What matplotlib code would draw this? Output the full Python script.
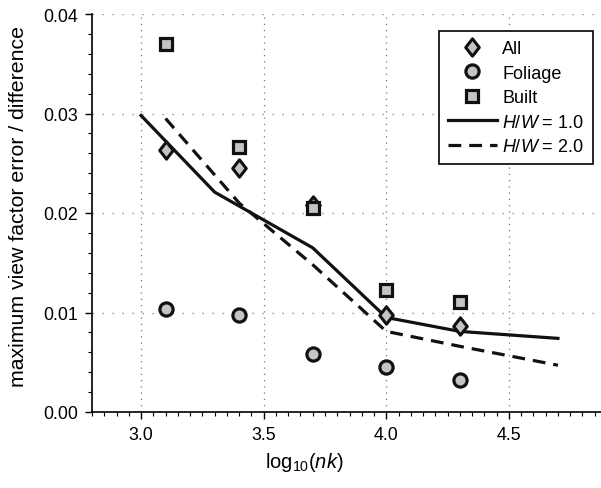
import matplotlib
matplotlib.use('Agg')
import matplotlib.pyplot as plt
from matplotlib.ticker import MultipleLocator
from matplotlib.path import Path

plt.rcParams['font.family'] = ['Liberation Sans', 'DejaVu Sans']
plt.rcParams['mathtext.fontset'] = 'custom'
plt.rcParams['mathtext.rm'] = 'Liberation Sans'
plt.rcParams['mathtext.it'] = 'Liberation Sans:italic'

# markers
pts_x = [3.1, 3.4, 3.7, 4.0, 4.3]
all_y = [0.0263, 0.0245, 0.0208, 0.0097, 0.0086]
foliage_y = [0.0104, 0.0097, 0.0058, 0.0045, 0.0032]
built_y = [0.0370, 0.0266, 0.0205, 0.0123, 0.0111]

# lines
hw1_x = [3.0, 3.3, 3.7, 4.0, 4.3, 4.7]
hw1_y = [0.0298, 0.0221, 0.0165, 0.0095, 0.0081, 0.0074]
hw2_x = [3.1, 3.4, 3.7, 4.0, 4.3, 4.7]
hw2_y = [0.0295, 0.0210, 0.0148, 0.0081, 0.0066, 0.0047]

# slightly tall diamond
diamond = Path([(0, 1), (0.78, 0), (0, -1), (-0.78, 0), (0, 1)],
               [Path.MOVETO, Path.LINETO, Path.LINETO, Path.LINETO, Path.CLOSEPOLY])

fig = plt.figure(figsize=(6.01, 4.89), dpi=100)
ax = fig.add_axes([92/601, 76/489, (607-92)/601, (413-15)/489])

gray = '#c4c4c4'
ax.plot(pts_x, all_y, marker=diamond, ms=12.5, mfc=gray, mec='#111111', mew=2.2, ls='none', label='All', zorder=4)
ax.plot(pts_x, foliage_y, 'o', ms=9.5, mfc=gray, mec='#111111', mew=2.3, ls='none', label='Foliage', zorder=4)
ax.plot(pts_x, built_y, 's', ms=8.5, mfc=gray, mec='#111111', mew=2.3, ls='none', label='Built', zorder=4)
ax.plot(hw1_x, hw1_y, '-', color='#111111', lw=2.3, label='$H/W$ = 1.0', zorder=3)
ax.plot(hw2_x, hw2_y, '--', color='#111111', lw=2.3, dashes=(4, 2.5), label='$H/W$ = 2.0', zorder=3)

ax.set_xlim(2.8, 4.9)
ax.set_ylim(0.0, 0.04)
ax.xaxis.set_minor_locator(MultipleLocator(0.05))
ax.yaxis.set_minor_locator(MultipleLocator(0.002))
ax.set_xticks([3.0, 3.5, 4.0, 4.5])
ax.set_xticklabels(['3.0', '3.5', '4.0', '4.5'])
ax.set_yticks([0.0, 0.01, 0.02, 0.03, 0.04])
ax.set_yticklabels(['0.00', '0.01', '0.02', '0.03', '0.04'])
ax.tick_params(which='major', length=5, width=1, labelsize=12.8, direction='out', pad=5)
ax.tick_params(which='minor', length=3, width=0.8, direction='out')
ax.xaxis.grid(True, which='major', ls=(0, (1, 4)), color='#777777', lw=0.9)
ax.yaxis.grid(True, which='major', ls=(0, (1, 7)), color='#777777', lw=0.9)

for s in ['top', 'right']:
    ax.spines[s].set_visible(False)
for s in ['left', 'bottom']:
    ax.spines[s].set_linewidth(1.2)

ax.set_xlabel('log$_{10}$($nk$)', fontsize=14.5)
ax.set_ylabel('maximum view factor error / difference', fontsize=15.3)
ax.xaxis.set_label_coords((304-92)/515, -38/398)
ax.yaxis.set_label_coords(-64/515, (413-207)/398)

leg = ax.legend(loc='upper right', bbox_to_anchor=(593/601, 1-32/489),
                bbox_transform=fig.transFigure, borderaxespad=0, fontsize=13, frameon=True,
                fancybox=False, edgecolor='black', framealpha=1,
                handlelength=2.7, borderpad=0.5, labelspacing=0.42, handletextpad=0.3)
leg.get_frame().set_linewidth(1.2)

fig.savefig('out.png', dpi=100)
